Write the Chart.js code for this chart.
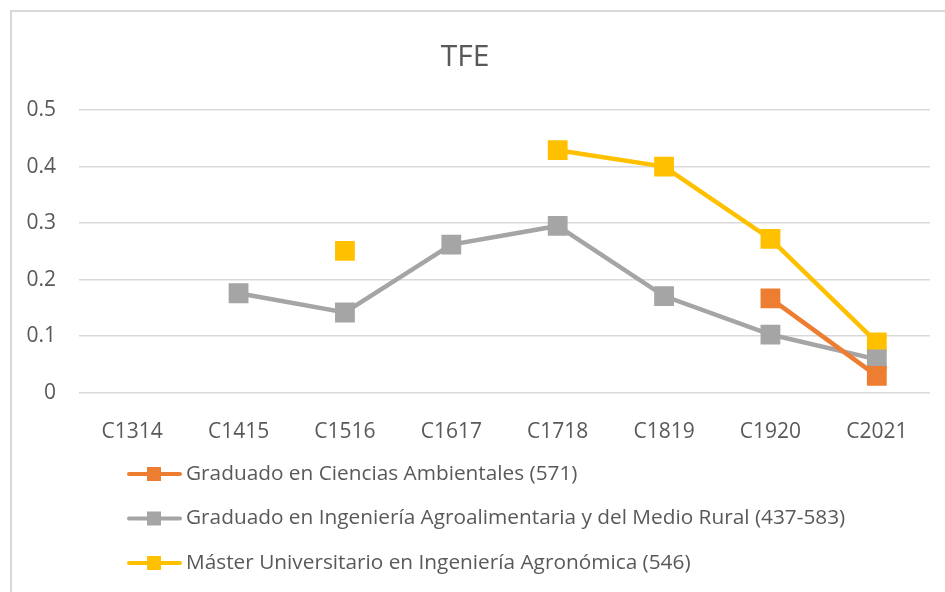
<!DOCTYPE html>
<html>
<head>
<meta charset="utf-8">
<script src="https://cdn.jsdelivr.net/npm/chart.js@4/dist/chart.umd.min.js"></script>
<style>
  html, body { margin: 0; padding: 0; background: #fff; }
  #frame { position: absolute; left: 10px; top: 10px; width: 1000px; height: 700px; border: 2px solid #d9d9d9; }
  #wrap { position: absolute; left: 0; top: 0; width: 945px; height: 592px; }
</style>
</head>
<body>
<div id="frame"></div>
<div id="wrap"><canvas id="myChart" width="945" height="592"></canvas></div>
<script>
const categories = ['C1314', 'C1415', 'C1516', 'C1617', 'C1718', 'C1819', 'C1920', 'C2021'];
const cienciasAmbientales = [null, null, null, null, null, null, 0.167, 0.030];
const ingAgroalimentaria = [null, 0.176, 0.142, 0.262, 0.295, 0.171, 0.103, 0.059];
const masterAgronomica = [null, null, 0.251, null, 0.429, 0.400, 0.272, 0.089];
const seriesNames = [
    'Graduado en Ciencias Ambientales (571)',
    'Graduado en Ingeniería Agroalimentaria y del Medio Rural (437-583)',
    'Máster Universitario en Ingeniería Agronómica (546)'
];
const textColor = '#595959';
const fontFamily = "'Open Sans', sans-serif";

function serie(label, data, color) {
    return {
        label: label,
        data: data,
        borderColor: color,
        backgroundColor: color,
        borderWidth: 4.5,
        pointStyle: 'rect',
        pointRadius: 14,
        pointHoverRadius: 14,
        pointBorderWidth: 0,
        pointBackgroundColor: color,
        spanGaps: false,
        tension: 0
    };
}

// leyenda vertical a la izquierda, como en Excel
const leyenda = {
    id: 'leyenda',
    afterDraw(chart) {
        const c = chart.ctx;
        c.save();
        chart.data.datasets.forEach((ds, i) => {
            const y = 474 + i * 44.5;
            c.strokeStyle = ds.borderColor;
            c.lineWidth = 4;
            c.lineCap = 'round';
            c.beginPath();
            c.moveTo(129, y);
            c.lineTo(180, y);
            c.stroke();
            c.fillStyle = ds.borderColor;
            c.fillRect(147, y - 7, 14, 14);
            c.fillStyle = textColor;
            c.font = '20.8px ' + fontFamily;
            c.textBaseline = 'middle';
            c.textAlign = 'left';
            c.fillText(ds.label, 186, y);
        });
        c.restore();
    }
};

const ctx = document.getElementById('myChart').getContext('2d');
const myChart = new Chart(ctx, {
    type: 'line',
    data: {
        labels: categories,
        datasets: [
            serie(seriesNames[0], cienciasAmbientales, '#ED7D31'),
            serie(seriesNames[1], ingAgroalimentaria, '#A5A5A5'),
            serie(seriesNames[2], masterAgronomica, '#FFC000')
        ]
    },
    options: {
        responsive: false,
        animation: false,
        layout: {
            padding: { left: 0, right: 15, top: 0, bottom: 128 }
        },
        plugins: {
            legend: { display: false },
            tooltip: { enabled: false },
            title: {
                display: true,
                text: 'TFE',
                color: textColor,
                font: { family: fontFamily, size: 30, weight: 'normal' },
                padding: { top: 39, bottom: 35 }
            }
        },
        scales: {
            x: {
                offset: true,
                grid: { display: false },
                border: { display: false },
                ticks: {
                    color: textColor,
                    padding: 19,
                    font: { family: fontFamily, size: 21 }
                }
            },
            y: {
                min: 0,
                max: 0.5,
                grid: { color: '#d9d9d9', lineWidth: 1.5, drawTicks: false },
                border: { display: false },
                afterFit(scale) { scale.width = 79; },
                ticks: {
                    stepSize: 0.1,
                    color: textColor,
                    padding: 23,
                    font: { family: fontFamily, size: 21 },
                    callback: v => (v === 0 ? '0' : v.toFixed(1))
                }
            }
        }
    },
    plugins: [leyenda]
});
</script>
</body>
</html>
